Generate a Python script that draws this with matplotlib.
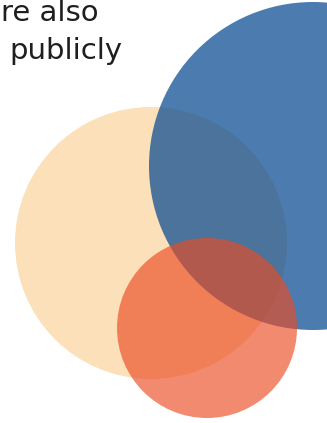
import matplotlib
matplotlib.use("Agg")
import matplotlib.pyplot as plt
from matplotlib.patches import Circle

# circles in picture pixels (x, y from top), drawn in this order
names = ["beige", "blue", "orange"]
centers_x = [151, 313, 207]
centers_y = [243, 166, 328]
radii = [136, 164, 90]
colors = ["#FBE0BA", "#00458E", "#EB4B23"]
alphas = [1.0, 0.7, 0.65]

line1 = "re also"
line2 = "publicly"
clipped = "y"  # tail of the word before, cut by the left edge

fig = plt.figure(figsize=(3.27, 4.23), dpi=100)
ax = fig.add_axes([0, 0, 1, 1])
ax.set_xlim(0, 327)
ax.set_ylim(423, 0)
ax.set_aspect("equal")
ax.axis("off")

for i in range(len(names)):
    c = Circle((centers_x[i], centers_y[i]), radii[i],
               facecolor=colors[i], alpha=alphas[i], edgecolor="none")
    ax.add_patch(c)

txt = dict(fontsize=21, color="#1e1e1e", family="DejaVu Sans",
           va="baseline", ha="left")
ax.text(1, 21, line1, **txt)
ax.text(9, 59, line2, **txt)
ax.text(-18, 59, clipped, **txt)

fig.savefig("out.png", dpi=100)
